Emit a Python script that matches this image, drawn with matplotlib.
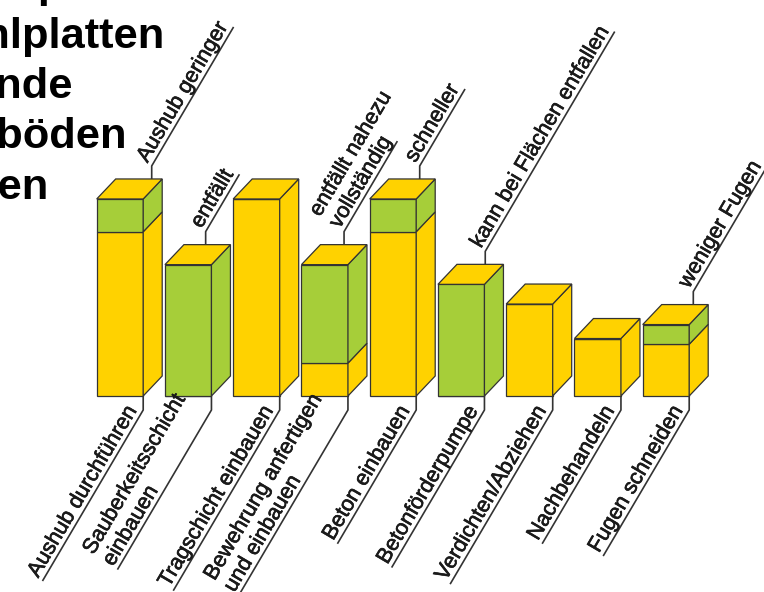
import math
import matplotlib
matplotlib.use('Agg')
import matplotlib.pyplot as plt
import matplotlib.patheffects as pe
from matplotlib.patches import Polygon

# Arbeitsschritte (unten) und Hinweise (oben)
steps = ['Aushub durchführen', 'Sauberkeitsschicht\neinbauen', 'Tragschicht einbauen',
         'Bewehrung anfertigen\nund einbauen', 'Beton einbauen', 'Betonförderpumpe',
         'Verdichten/Abziehen', 'Nachbehandeln', 'Fugen schneiden']
notes = ['Aushub geringer', 'entfällt', '', 'entfällt nahezu\nvollständig', 'schneller',
         'kann bei Flächen entfallen', '', '', 'weniger Fugen']

# Säulenanteile (gelb unten, grün oben)
yellow_vals = [10, 0, 12, 2, 10, 0, 5.6, 3.5, 3.15]
green_vals = [2, 8, 0, 6, 2, 6.8, 0, 0, 1.2]

title_lines = ['Stahlfaserbeton-Konzept', 'Stahlbeton-Sohlplatten', 'Wände',
               'Industrieböden', 'herstellen']

YELLOW = '#FFD200'
GREEN = '#A6CE39'
EDGE = '#333333'
INK = '#1a1a1a'

W, H = 764, 592
BASE_PX = 396
X0_PX = 119.95
STEP_PX = 68.25
UNIT_PX = 16.42
PX_X = 1 / STEP_PX
PX_Y = 1 / UNIT_PX
BAR_W = 46.5 * PX_X
DX, DY = 19 * PX_X, 20 * PX_Y
ANGLE = 59.5
UX, UY = math.cos(math.radians(ANGLE)), math.sin(math.radians(ANGLE))
note_off = [36, 21.7, 0, 23.6, 31, 28.3, 0, 0, 31.6]  # px from back-left of top face

plt.rcParams['font.family'] = ['Liberation Sans', 'DejaVu Sans']

fig = plt.figure(figsize=(W / 100, H / 100), dpi=100)
ax = fig.add_axes([0, 0, 1, 1])
ax.set_xlim(-X0_PX / STEP_PX, (W - X0_PX) / STEP_PX)
ax.set_ylim(-(H - BASE_PX) / UNIT_PX, BASE_PX / UNIT_PX)
ax.axis('off')

x = list(range(len(steps)))
ax.bar(x, yellow_vals, width=BAR_W, color=YELLOW, edgecolor=EDGE, linewidth=0.9, zorder=2)
ax.bar(x, green_vals, width=BAR_W, bottom=yellow_vals, color=GREEN, edgecolor=EDGE,
       linewidth=0.9, zorder=2)

for i in x:
    xl, xr = i - BAR_W / 2, i + BAR_W / 2
    segs = [(0, yellow_vals[i], YELLOW), (yellow_vals[i], yellow_vals[i] + green_vals[i], GREEN)]
    for y0, y1, c in segs:
        if y1 <= y0:
            continue
        ax.add_patch(Polygon([(xr, y0), (xr + DX, y0 + DY), (xr + DX, y1 + DY), (xr, y1)],
                             closed=True, facecolor=c, edgecolor=EDGE, linewidth=0.9, zorder=2))
    top = yellow_vals[i] + green_vals[i]
    ax.add_patch(Polygon([(xl, top), (xr, top), (xr + DX, top + DY), (xl + DX, top + DY)],
                         closed=True, facecolor=YELLOW, edgecolor=EDGE, linewidth=0.9, zorder=2))

renderer = fig.canvas.get_renderer()


def text_width(s, **k):
    t = ax.text(0, 0, s, **k)
    w = t.get_window_extent(renderer).width
    t.remove()
    return w


# Schriftgröße so wählen, dass die Breite zur Vorlage passt
kw = dict(fontsize=16, color=INK, linespacing=1.12)
kw['fontsize'] *= 254 / text_width('kann bei Flächen entfallen', **kw)
bold_look = [pe.withStroke(linewidth=0.45, foreground=INK)]

for i in x:
    xl, xr = i - BAR_W / 2, i + BAR_W / 2
    top = yellow_vals[i] + green_vals[i]

    # unten: Arbeitsschritt
    L = max(text_width(s, **kw) for s in steps[i].split('\n')) + 4
    sx, sy = xr, -14 * PX_Y
    ex, ey = sx - L * UX * PX_X, sy - L * UY * PX_Y
    ax.plot([xr, sx, ex], [0, sy, ey], color=EDGE, lw=1.2, zorder=1, solid_capstyle='butt')
    ax.text(ex, ey, steps[i], rotation=ANGLE, rotation_mode='anchor', ha='left',
            va='bottom', multialignment='left', path_effects=bold_look, **kw)

    # oben: Hinweis
    if notes[i]:
        L = text_width(notes[i].split('\n')[-1], **kw) + 2
        bx = xl + DX + note_off[i] * PX_X
        by = top + DY
        sy = by + 13 * PX_Y
        ex, ey = bx + L * UX * PX_X, sy + L * UY * PX_Y
        ax.plot([bx, bx, ex], [by, sy, ey], color=EDGE, lw=1.2, zorder=1)
        ax.text(bx, sy, notes[i], rotation=ANGLE, rotation_mode='anchor', ha='left',
                va='bottom', multialignment='left', path_effects=bold_look, **kw)

# Titel (links angeschnitten)
tkw = dict(fontsize=28, fontweight='bold', color='black')
tkw['fontsize'] *= 77 / text_width('nde', **tkw)
title_ends = [80, 165, 73, 127, 48]
title_base = [-3, 48.3, 98.3, 148.3, 199]
for s, xe, yb in zip(title_lines, title_ends, title_base):
    fig.text(xe / W, 1 - yb / H, s, ha='right', va='baseline', **tkw)

fig.savefig('out.png', dpi=100)
